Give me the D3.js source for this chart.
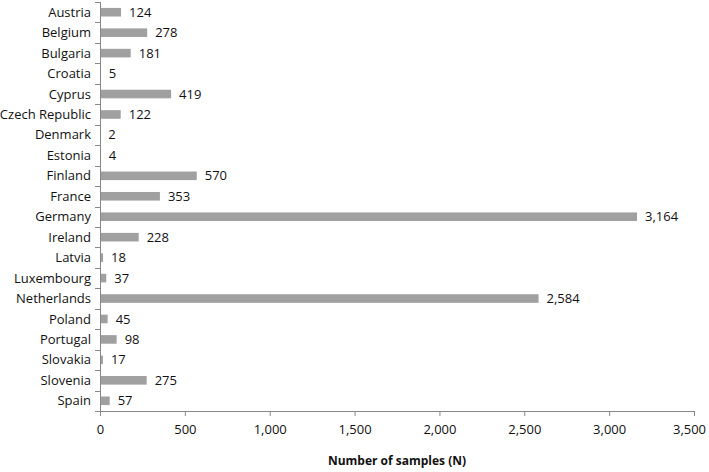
<!DOCTYPE html>
<html>
<head>
<meta charset="utf-8">
<script src="https://cdn.jsdelivr.net/npm/d3@7"></script>
<style>
  body { margin: 0; background: #fff; }
  svg text { font-family: "Open Sans", "Noto Sans", sans-serif; fill: #111; }
</style>
</head>
<body>
<svg id="chart" width="709" height="472"></svg>
<script>
var countries = ["Austria", "Belgium", "Bulgaria", "Croatia", "Cyprus", "Czech Republic",
    "Denmark", "Estonia", "Finland", "France", "Germany", "Ireland", "Latvia",
    "Luxembourg", "Netherlands", "Poland", "Portugal", "Slovakia", "Slovenia", "Spain"];
var samples = [124, 278, 181, 5, 419, 122, 2, 4, 570, 353, 3164, 228, 18, 37, 2584, 45, 98, 17, 275, 57];
var xTicks = [0, 500, 1000, 1500, 2000, 2500, 3000, 3500];
var xTitle = "Number of samples (N)";

var data = countries.map(function(c, i) { return {name: c, value: samples[i]}; });

var margin = {top: 2, left: 100, right: 15, bottom: 61};
var width = 709 - margin.left - margin.right;
var height = 472 - margin.top - margin.bottom;

var svg = d3.select("#chart");
var g = svg.append("g").attr("transform", "translate(" + margin.left + "," + margin.top + ")");

var x = d3.scaleLinear().domain([0, 3500]).range([0, width]);
var y = d3.scaleBand().domain(countries).range([0, height]).paddingInner(0.58).paddingOuter(0.29);

// bars
g.selectAll("rect.bar")
    .data(data)
    .enter().append("rect")
    .attr("class", "bar")
    .attr("x", 0)
    .attr("y", function(d) { return y(d.name); })
    .attr("width", function(d) { return x(d.value); })
    .attr("height", y.bandwidth())
    .style("fill", "#a0a0a0");

// value labels
var fmt = d3.format(",");
g.selectAll("text.val")
    .data(data)
    .enter().append("text")
    .attr("class", "val")
    .attr("x", function(d) { return x(d.value) + 8; })
    .attr("y", function(d) { return y(d.name) + y.bandwidth() / 2; })
    .attr("dy", "0.35em")
    .style("font-size", "13px")
    .text(function(d) { return fmt(d.value); });

// x axis
var xAxis = d3.axisBottom(x).tickValues(xTicks).tickFormat(fmt).tickSize(5).tickPadding(9);
var gx = g.append("g").attr("transform", "translate(0," + height + ")").call(xAxis);
gx.select(".domain").attr("stroke", "#888").attr("d", "M0.5,5V0.5H" + (width + 0.5) + "V5");
gx.selectAll(".tick line").attr("stroke", "#888");
gx.selectAll(".tick text").style("font-size", "13px").style("fill", "#111")
    .attr("dx", function(d) { return d === 3500 ? -5 : 0; });

// y axis: line plus ticks between categories
var gy = g.append("g");
gy.append("line")
    .attr("x1", 0.5).attr("x2", 0.5)
    .attr("y1", 0).attr("y2", height)
    .attr("stroke", "#888");
var step = y.step();
var bounds = d3.range(countries.length + 1).map(function(i) { return y(countries[0]) - y.paddingInner() * step / 2 + i * step; });
gy.selectAll("line.tk")
    .data(bounds)
    .enter().append("line")
    .attr("class", "tk")
    .attr("x1", -5).attr("x2", 0.5)
    .attr("y1", function(d) { return Math.round(d) + 0.5; })
    .attr("y2", function(d) { return Math.round(d) + 0.5; })
    .attr("stroke", "#888");
gy.selectAll("text.cat")
    .data(countries)
    .enter().append("text")
    .attr("class", "cat")
    .attr("x", -9)
    .attr("y", function(d) { return y(d) + y.bandwidth() / 2; })
    .attr("dy", "0.35em")
    .attr("text-anchor", "end")
    .style("font-size", "13px")
    .text(function(d) { return d; });

// axis title
g.append("text")
    .attr("x", width / 2)
    .attr("y", height + 54)
    .attr("text-anchor", "middle")
    .style("font-size", "12px")
    .style("font-weight", "bold")
    .text(xTitle);
</script>
</body>
</html>
